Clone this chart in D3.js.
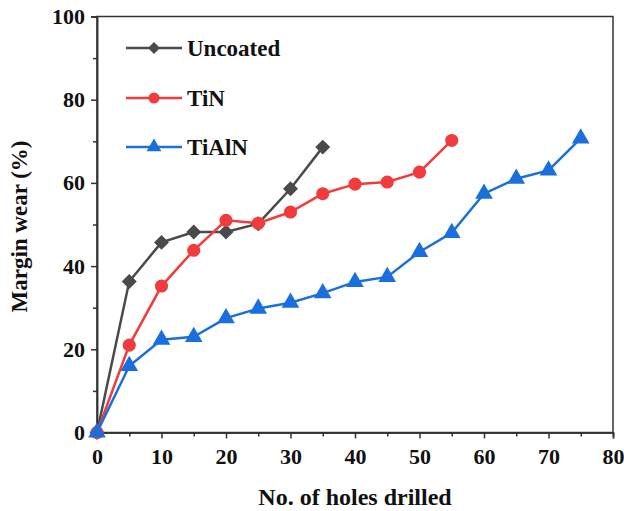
<!DOCTYPE html>
<html><head><meta charset="utf-8">
<script src="https://cdn.jsdelivr.net/npm/d3@7/dist/d3.min.js"></script>
</head><body style="margin:0"><svg id="c" width="624" height="511" font-family="Liberation Serif, Times New Roman, serif" style="font-family:'Liberation Serif','Times New Roman',serif;display:block"></svg>
<script>
const holes = [0,5,10,15,20,25,30,35,40,45,50,55,60,65,70,75];
const uncoated = [0,36.3,45.7,48.2,48.2,50.2,58.6,68.6];
const tin = [0,21.0,35.2,43.8,51.0,50.3,53.0,57.4,59.7,60.2,62.6,70.2];
const tialn = [0,16.0,22.3,23.0,27.5,29.8,31.2,33.5,36.2,37.4,43.4,48.0,57.4,61.0,63.0,70.7];
const seriesNames = ["Uncoated","TiN","TiAlN"];
const xTicks = [0,10,20,30,40,50,60,70,80];
const yTicks = [0,20,40,60,80,100];

const colors = ["#4a4a4a","#f03c3c","#1a6fdc"];
const shapes = [d3.symbolSquare, d3.symbolCircle, d3.symbolTriangle];
const rot = [45,0,0];
const sizes = [112, 135, 135];
const legendSizes = [72, 95, 95];
const FONT = "Liberation Serif, Times New Roman, serif";

function styleText(sel, size){
  sel.attr("font-family",FONT).attr("font-weight","bold").attr("font-size",size)
     .style("font-family","'Liberation Serif','Times New Roman',serif")
     .style("font-weight","bold").style("font-size",size+"px");
  return sel;
}

const svg = d3.select("#c");
const L=97, R=613, T=16.5, B=432.5;
const x = d3.scaleLinear().domain([0,80]).range([L,R]);
const y = d3.scaleLinear().domain([0,100]).range([B,T]);

svg.append("rect").attr("x",L).attr("y",T).attr("width",R-L).attr("height",B-T)
  .attr("fill","none").attr("stroke","#333").attr("stroke-width",1.5);

const gx = svg.append("g").attr("transform",`translate(0,${B})`)
  .call(d3.axisBottom(x).tickValues(xTicks).tickSize(6).tickPadding(7).tickFormat(d3.format("d")));
gx.append("g").call(d3.axisBottom(x).tickValues(d3.range(5,80,10)).tickSize(4).tickFormat(""));
const gy = svg.append("g").attr("transform",`translate(${L},0)`)
  .call(d3.axisLeft(y).tickValues(yTicks).tickSize(6).tickPadding(6));
gy.append("g").call(d3.axisLeft(y).tickValues(d3.range(10,100,20)).tickSize(4).tickFormat(""));
svg.selectAll("g").attr("font-family",FONT);
svg.selectAll(".domain").attr("stroke","#333").attr("stroke-width",1.5);
svg.selectAll(".tick line").attr("stroke","#333").attr("stroke-width",1.5);
styleText(svg.selectAll(".tick text").attr("fill","#111"), 22);
gx.selectAll(".tick text").attr("dy","0.85em");

styleText(svg.append("text").attr("x",355).attr("y",505).attr("text-anchor","middle")
  .attr("fill","#111"), 24).text("No. of holes drilled");
styleText(svg.append("text").attr("transform",`translate(27,${(T+B)/2+2}) rotate(-90)`).attr("text-anchor","middle")
  .attr("fill","#111"), 23).text("Margin wear (%)");

const data = [uncoated, tin, tialn];
const line = d3.line().x((d,i)=>x(holes[i])).y(d=>y(d));
data.forEach((vals,k)=>{
  svg.append("path").datum(vals).attr("d",line).attr("fill","none")
    .attr("stroke",colors[k]).attr("stroke-width",2.5);
});
data.forEach((vals,k)=>{
  svg.selectAll(null).data(vals).enter().append("path")
    .attr("d",d3.symbol().type(shapes[k]).size(sizes[k]))
    .attr("transform",(d,i)=>`translate(${x(holes[i])},${y(d)}) rotate(${rot[k]})`)
    .attr("fill",colors[k]);
});

const ly = [48,98,147];
seriesNames.forEach((n,k)=>{
  const g = svg.append("g");
  g.append("line").attr("x1",126).attr("x2",182).attr("y1",ly[k]).attr("y2",ly[k])
    .attr("stroke",colors[k]).attr("stroke-width",2.5);
  g.append("path").attr("d",d3.symbol().type(shapes[k]).size(legendSizes[k]))
    .attr("transform",`translate(154,${ly[k]}) rotate(${rot[k]})`).attr("fill",colors[k]);
  styleText(g.append("text").attr("x",187).attr("y",ly[k]).attr("dy","0.35em")
    .attr("fill","#111"), 23).text(n);
});
</script></body></html>
